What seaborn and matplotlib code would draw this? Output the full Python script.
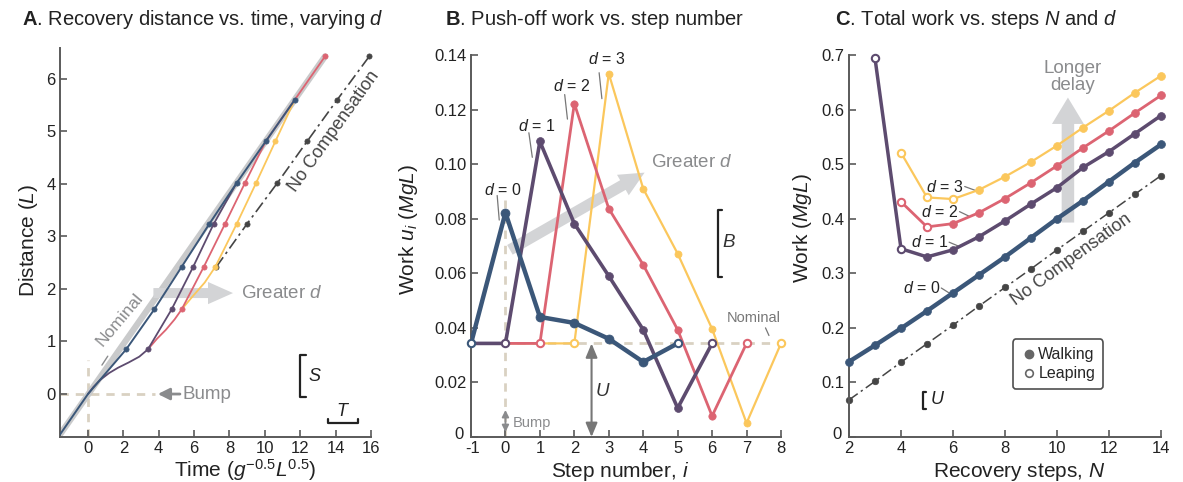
import numpy as np
import pandas as pd
import matplotlib
matplotlib.use("Agg")
import matplotlib.pyplot as plt
import matplotlib.transforms as mtransforms
import seaborn as sns
from matplotlib.lines import Line2D

# ---------------- Panel A data (time, distance) ----------------
nominalA_t = [-1.58, 13.4]
nominalA_x = [-0.77, 6.42]
blueA_t = [-1.58, 0, 2.16, 3.75, 5.3, 6.85, 8.4, 10.06, 11.7]
blueA_x = [-0.77, 0, 0.85, 1.61, 2.42, 3.23, 4.01, 4.81, 5.6]
purpleA_t = [0, 0.3, 0.7, 1.2, 1.7, 2.3, 2.9, 3.39, 4.73, 5.95, 7.1, 8.4]
purpleA_x = [0, 0.13, 0.27, 0.40, 0.50, 0.60, 0.71, 0.85, 1.61, 2.42, 3.23, 4.01]
redA_t = [3.39, 3.9, 4.4, 4.9, 5.3, 6.55, 7.74, 8.87, 10.06, 11.7, 13.4]
redA_x = [0.85, 1.05, 1.22, 1.42, 1.61, 2.42, 3.23, 4.01, 4.81, 5.6, 6.42]
yellowA_t = [5.3, 5.9, 6.6, 7.2, 8.4, 9.5, 10.6, 11.7]
yellowA_x = [1.61, 1.85, 2.12, 2.42, 3.23, 4.01, 4.81, 5.6]
nocompA_t = [7.26, 8.98, 10.7, 12.4, 14.1, 15.9]
nocompA_x = [2.42, 3.23, 4.01, 4.81, 5.6, 6.42]
blueA_mk = [2, 3, 4, 5, 6, 7, 8]
purpleA_mk = [7, 8, 9, 10]
redA_mk = [4, 5, 6, 7, 10]
yellowA_mk = [3, 4, 5, 6]

# ---------------- Panel B data (step i, work u_i) ----------------
blueB_i = [-1, 0, 1, 2, 3, 4, 5]
blueB_u = [0.0343, 0.0822, 0.0440, 0.0418, 0.0360, 0.0275, 0.0343]
purpleB_i = [-1, 0, 1, 2, 3, 4, 5, 6]
purpleB_u = [0.0343, 0.0343, 0.1083, 0.0782, 0.0590, 0.0393, 0.0106, 0.0343]
redB_i = [-1, 0, 1, 2, 3, 4, 5, 6, 7]
redB_u = [0.0343, 0.0343, 0.0343, 0.1222, 0.0837, 0.0631, 0.0393, 0.0077, 0.0343]
yellowB_i = [-1, 0, 1, 2, 3, 4, 5, 6, 7, 8]
yellowB_u = [0.0343, 0.0343, 0.0343, 0.0343, 0.1332, 0.0910, 0.0672, 0.0396, 0.0051, 0.0343]
nominal_u = 0.0343

# ---------------- Panel C data (steps N, total work) ----------------
N_all = [2, 3, 4, 5, 6, 7, 8, 9, 10, 11, 12, 13, 14]
nocompC = [0.068, 0.102, 0.137, 0.171, 0.205, 0.240, 0.274, 0.308, 0.343, 0.377, 0.411, 0.445, 0.479]
d0C = [0.138, 0.168, 0.199, 0.231, 0.264, 0.297, 0.330, 0.365, 0.400, 0.433, 0.468, 0.503, 0.536]
N_d1 = [3, 4, 5, 6, 7, 8, 9, 10, 11, 12, 13, 14]
d1C = [0.694, 0.345, 0.330, 0.343, 0.367, 0.396, 0.427, 0.457, 0.494, 0.523, 0.556, 0.589]
d1_leap = [3, 4]
N_d2 = [4, 5, 6, 7, 8, 9, 10, 11, 12, 13, 14]
d2C = [0.431, 0.385, 0.391, 0.411, 0.437, 0.466, 0.497, 0.530, 0.561, 0.594, 0.626]
d2_leap = [4, 5]
N_d3 = [4, 5, 6, 7, 8, 9, 10, 11, 12, 13, 14]
d3C = [0.521, 0.439, 0.436, 0.453, 0.477, 0.504, 0.534, 0.567, 0.598, 0.631, 0.662]
d3_leap = [4, 5, 6]

# ---------------- style ----------------
sns.set_theme(style="ticks")
plt.rcParams['font.family'] = ['Liberation Sans', 'DejaVu Sans']
plt.rcParams['mathtext.fontset'] = 'custom'
plt.rcParams['mathtext.rm'] = 'Liberation Sans'
plt.rcParams['mathtext.it'] = 'Liberation Sans:italic'
plt.rcParams['mathtext.bf'] = 'Liberation Sans:bold'

BLUE = "#3b5779"
PURPLE = "#5d4b6f"
RED = "#dc6472"
YELLOW = "#fbc75c"
NOMGRAY = "#c9cacb"
ARROWGRAY = "#d3d4d6"
TXTGRAY = "#8a8b8d"
DARK = "#454545"
BEIGE = "#d9d1c2"
SPINE = "#5a5a5a"

fig = plt.figure(figsize=(11.83, 4.82), dpi=100)
W, H = 1183, 482
axA = fig.add_axes([60 / W, 1 - 437 / H, 311 / W, 389 / H])
axB = fig.add_axes([471 / W, 1 - 437 / H, 310 / W, 382 / H])
axC = fig.add_axes([849 / W, 1 - 437 / H, 312 / W, 382 / H])


def sline(ax, x, y, color, lw, ls='-', z=2, alpha=1.0):
    sns.lineplot(x=x, y=y, ax=ax, color=color, linewidth=lw, linestyle=ls,
                 sort=False, estimator=None, zorder=z, legend=False, alpha=alpha)


def sdots(ax, x, y, color, s, z=3, open_=False, lw=1.5):
    if len(x) == 0:
        return
    if open_:
        sns.scatterplot(x=x, y=y, ax=ax, color="white", edgecolor=color, s=s,
                        linewidth=lw, zorder=z, legend=False, clip_on=False)
    else:
        sns.scatterplot(x=x, y=y, ax=ax, color=color, edgecolor=color, s=s,
                        linewidth=0.5, zorder=z, legend=False, clip_on=False)


def style_axes(ax):
    sns.despine(ax=ax)
    for sp in ['left', 'bottom']:
        ax.spines[sp].set_color(SPINE)
        ax.spines[sp].set_linewidth(1.4)
    ax.tick_params(direction='in', length=5, width=1.2, color=SPINE,
                   labelsize=12, labelcolor="#222222", pad=3)
    ax.set_xlabel("")
    ax.set_ylabel("")


def big_arrow(ax, tail, tip, tw=0.36, hw=0.8, hl=0.9):
    ax.annotate("", xy=tip, xytext=tail, zorder=1,
                arrowprops=dict(arrowstyle=f"simple,head_length={hl},head_width={hw},tail_width={tw}",
                                fc=ARROWGRAY, ec='none', mutation_scale=20,
                                shrinkA=0, shrinkB=0))


# ================= Panel A =================
ax = axA
ax.plot([0, 0], [-0.82, 0.65], ls=(0, (3, 2.5)), color=BEIGE, lw=2, zorder=0.5)
ax.plot([-1.6, 3.8], [0, 0], ls=(0, (3, 2.5)), color=BEIGE, lw=2, zorder=0.5)
sline(ax, nominalA_t, nominalA_x, NOMGRAY, 4.5, z=1)
sline(ax, nocompA_t, nocompA_x, DARK, 1.2, ls=(0, (7, 2.5, 1.5, 2.5)), z=2)
sdots(ax, nocompA_t, nocompA_x, DARK, 14, z=2.1)
sline(ax, yellowA_t, yellowA_x, YELLOW, 1.3, z=2.2)
sdots(ax, [yellowA_t[k] for k in yellowA_mk], [yellowA_x[k] for k in yellowA_mk], YELLOW, 14, z=2.3)
sline(ax, redA_t, redA_x, RED, 1.3, z=2.4)
sdots(ax, [redA_t[k] for k in redA_mk], [redA_x[k] for k in redA_mk], RED, 14, z=2.5)
sline(ax, purpleA_t, purpleA_x, PURPLE, 1.3, z=2.6)
sdots(ax, [purpleA_t[k] for k in purpleA_mk], [purpleA_x[k] for k in purpleA_mk], PURPLE, 14, z=2.7)
sline(ax, blueA_t, blueA_x, BLUE, 1.4, z=2.8)
sdots(ax, [blueA_t[k] for k in blueA_mk], [blueA_x[k] for k in blueA_mk], BLUE, 14, z=2.9)

ax.set_xlim(-1.58, 16)
ax.set_ylim(-0.817, 6.58)
ax.set_xticks([0, 2, 4, 6, 8, 10, 12, 14, 16])
ax.set_yticks([0, 1, 2, 3, 4, 5, 6])
style_axes(ax)

ax.text(1.8, 1.42, "Nominal", rotation=50, color=TXTGRAY, fontsize=12.5,
        ha='center', va='center', rotation_mode='anchor')
ax.plot([0.79, 1.12], [0.55, 0.72], color=TXTGRAY, lw=1)
ax.text(13.9, 5.0, "No Compensation", rotation=54.5, color=DARK, fontsize=13,
        ha='center', va='center', rotation_mode='anchor')
big_arrow(ax, (3.7, 1.92), (8.2, 1.92), tw=0.36, hw=0.8, hl=0.9)
ax.text(8.65, 1.92, r"Greater $d$", color=TXTGRAY, fontsize=13.5, ha='left', va='center')
ax.annotate("", xy=(3.95, 0), xytext=(5.2, 0),
            arrowprops=dict(arrowstyle="-|>,head_length=0.5,head_width=0.25", color=TXTGRAY,
                            lw=2, shrinkA=0, shrinkB=0, mutation_scale=14))
ax.text(5.35, 0, "Bump", color=TXTGRAY, fontsize=13.5, ha='left', va='center')
# S bracket
ax.plot([12.3, 12.0, 12.0, 12.3], [0.74, 0.74, -0.06, -0.06], color="#222222", lw=1.6)
ax.text(12.45, 0.34, "$S$", fontsize=13, ha='left', va='center', color="#222222")
# T bar
ax.plot([13.56, 13.56, 15.25, 15.25], [-0.47, -0.55, -0.55, -0.47], color="#222222", lw=1.6)
ax.text(14.4, -0.33, "$T$", fontsize=13, ha='center', va='center', color="#222222")

# ================= Panel B =================
ax = axB
ax.plot([-1, 8], [nominal_u, nominal_u], ls=(0, (3, 2.5)), color=BEIGE, lw=2, zorder=0.5, clip_on=False)
ax.plot([0, 0], [0, 0.087], ls=(0, (3, 2.5)), color=BEIGE, lw=2, zorder=0.5)
big_arrow(ax, (0.13, 0.0686), (4.04, 0.0969), tw=0.4, hw=0.85, hl=0.9)
ax.text(4.22, 0.1005, r"Greater $d$", color=TXTGRAY, fontsize=13.5, ha='left', va='center')

series_B = [
    (yellowB_i, yellowB_u, YELLOW, 1.6, 26, [2, 8]),
    (redB_i, redB_u, RED, 2.0, 28, [1, 7]),
    (purpleB_i, purpleB_u, PURPLE, 2.6, 32, [0, 6]),
    (blueB_i, blueB_u, BLUE, 3.2, 42, [-1, 5]),
]
z = 2
for xs, ys, c, lw, s, opens in series_B:
    sline(ax, xs, ys, c, lw, z=z)
    filled = [(a, b) for a, b in zip(xs, ys) if b != nominal_u]
    sdots(ax, [p[0] for p in filled], [p[1] for p in filled], c, s, z=z + 0.1)
    op = [(a, b) for a, b in zip(xs, ys) if a in opens]
    sdots(ax, [p[0] for p in op], [p[1] for p in op], c, 28, z=z + 0.2, open_=True)
    z += 1

ax.set_xlim(-1, 8)
ax.set_ylim(0, 0.14)
ax.set_xticks(list(range(-1, 9)))
ax.set_xticklabels([str(v) for v in range(-1, 9)])
ax.set_yticks([0, 0.02, 0.04, 0.06, 0.08, 0.10, 0.12, 0.14])
ax.set_yticklabels(["0", "0.02", "0.04", "0.06", "0.08", "0.10", "0.12", "0.14"])
style_axes(ax)
# nudge the y "0" label up-left a little so it does not touch "-1"
off = mtransforms.ScaledTranslation(-2 / 72, 3 / 72, fig.dpi_scale_trans)
ylab0 = ax.get_yticklabels()[0]
ylab0.set_transform(ylab0.get_transform() + off)
xlabm1 = ax.get_xticklabels()[0]
xlabm1.set_transform(xlabm1.get_transform() + mtransforms.ScaledTranslation(1.5 / 72, 0, fig.dpi_scale_trans))

# d labels
for tx, ty, lx, ly, lab in [(-0.08, 0.0906, [-0.24, -0.18], [0.0885, 0.0795], 0),
                            (0.9, 0.1138, [0.68, 0.78], [0.1115, 0.1025], 1),
                            (1.93, 0.1285, [1.72, 1.8], [0.1255, 0.1165], 2),
                            (2.94, 0.1385, [2.72, 2.8], [0.1335, 0.1240], 3)]:
    ax.text(tx, ty, rf"$d$ = {lab}", fontsize=11.5, ha='center', va='center', color="#222222")
    ax.plot(lx, ly, color="#777777", lw=0.9)
ax.text(7.2, 0.0435, "Nominal", fontsize=10.5, color="#777777", ha='center', va='center')
ax.plot([7.55, 7.65], [0.040, 0.0372], color="#777777", lw=0.9)
# bump arrow
ax.annotate("", xy=(0, 0.0018), xytext=(0, 0.0099),
            arrowprops=dict(arrowstyle="<|-|>,head_length=0.4,head_width=0.2", color=TXTGRAY,
                            lw=1.3, shrinkA=0, shrinkB=0, mutation_scale=10))
ax.text(0.22, 0.0052, "Bump", fontsize=10.5, color=TXTGRAY, ha='left', va='center')
# U arrow
ax.annotate("", xy=(2.5, 0.0), xytext=(2.5, nominal_u),
            arrowprops=dict(arrowstyle="<|-|>,head_length=0.6,head_width=0.25", color="#777777",
                            lw=1.5, shrinkA=0, shrinkB=0, mutation_scale=14))
ax.text(2.83, 0.0165, "$U$", fontsize=13.5, color="#333333", ha='center', va='center')
# B bracket
ax.plot([6.3, 6.16, 6.16, 6.3], [0.0833, 0.0833, 0.0587, 0.0587], color="#222222", lw=1.6)
ax.text(6.5, 0.0712, "$B$", fontsize=13.5, ha='center', va='center', color="#333333")

# ================= Panel C =================
ax = axC
ax.annotate("", xy=(10.42, 0.622), xytext=(10.42, 0.393), zorder=1,
            arrowprops=dict(arrowstyle="simple,head_length=0.95,head_width=1.15,tail_width=0.45",
                            fc=ARROWGRAY, ec='none', mutation_scale=20, shrinkA=0, shrinkB=0))
ax.text(10.62, 0.66, "Longer\ndelay", color=TXTGRAY, fontsize=13.5, ha='center', va='center',
        linespacing=0.95)

sline(ax, N_all, nocompC, DARK, 1.1, ls=(0, (7, 2.5, 1.5, 2.5)), z=2)
sdots(ax, N_all, nocompC, DARK, 22, z=2.1)

series_C = [
    (N_d3, d3C, YELLOW, 1.6, d3_leap),
    (N_d2, d2C, RED, 2.0, d2_leap),
    (N_d1, d1C, PURPLE, 2.5, d1_leap),
    (N_all, d0C, BLUE, 3.2, []),
]
z = 3
for xs, ys, c, lw, leaps in series_C:
    sline(ax, xs, ys, c, lw, z=z)
    fx = [a for a in xs if a not in leaps]
    fy = [b for a, b in zip(xs, ys) if a not in leaps]
    sdots(ax, fx, fy, c, 32, z=z + 0.1)
    ox = [a for a in xs if a in leaps]
    oy = [b for a, b in zip(xs, ys) if a in leaps]
    sdots(ax, ox, oy, c, 28, z=z + 0.2, open_=True)
    z += 1

ax.set_xlim(2, 14)
ax.set_ylim(0, 0.7)
ax.set_xticks([2, 4, 6, 8, 10, 12, 14])
ax.set_yticks([0, 0.1, 0.2, 0.3, 0.4, 0.5, 0.6, 0.7])
ax.set_yticklabels(["0", "0.1", "0.2", "0.3", "0.4", "0.5", "0.6", "0.7"])
style_axes(ax)
ylab0c = ax.get_yticklabels()[0]
ylab0c.set_transform(ylab0c.get_transform() + off)

for tx, ty, lx, ly, lab in [(6.4, 0.459, [6.45, 6.85], [0.459, 0.452], 3),
                            (6.2, 0.413, [6.25, 6.6], [0.413, 0.405], 2),
                            (5.8, 0.357, [5.85, 6.2], [0.357, 0.350], 1),
                            (5.5, 0.273, [5.55, 5.85], [0.273, 0.264], 0)]:
    ax.text(tx, ty, rf"$d$ = {lab}", fontsize=11.5, ha='right', va='center', color="#222222")
    ax.plot(lx, ly, color="#777777", lw=0.9)

ax.text(10.55, 0.325, "No Compensation", rotation=36, color=DARK, fontsize=13,
        ha='center', va='center', rotation_mode='anchor')
ax.plot([4.85 + 0.12, 4.85, 4.85, 4.85 + 0.12], [0.082, 0.082, 0.052, 0.052], color="#222222", lw=1.6)
ax.text(5.42, 0.068, "$U$", fontsize=13, ha='center', va='center', color="#222222")

handles = [Line2D([], [], marker='o', ls='none', color='#666666', markersize=6),
           Line2D([], [], marker='o', ls='none', markerfacecolor='white',
                  markeredgecolor='#666666', markersize=5.5, markeredgewidth=1.2)]
leg = ax.legend(handles, ["Walking", "Leaping"], loc='center', bbox_to_anchor=(0.67, 0.19),
                fontsize=11.5, frameon=True, fancybox=True, handletextpad=0.1,
                handlelength=1.0, borderpad=0.5, labelspacing=0.25)
leg.get_frame().set_edgecolor("#222222")
leg.get_frame().set_linewidth(1.2)

# ================= Titles & axis labels =================
fig.text(22 / W, 1 - 25 / H, r"$\mathbf{A}$. Recovery distance vs. time, varying $d$",
         fontsize=14.5, ha='left', va='baseline', color="#222222")
fig.text(445 / W, 1 - 25 / H, r"$\mathbf{B}$. Push-off work vs. step number",
         fontsize=14.5, ha='left', va='baseline', color="#222222")
fig.text(835 / W, 1 - 25 / H, r"$\mathbf{C}$. Total work vs. steps $N$ and $d$",
         fontsize=14.5, ha='left', va='baseline', color="#222222")

fig.text(245 / W, 1 - 477 / H, r"Time ($g^{-0.5}L^{0.5}$)", fontsize=15, ha='center', va='baseline', color="#222222")
fig.text(620 / W, 1 - 477 / H, r"Step number, $i$", fontsize=15, ha='center', va='baseline', color="#222222")
fig.text(1019 / W, 1 - 477 / H, r"Recovery steps, $N$", fontsize=15, ha='center', va='baseline', color="#222222")
fig.text(28 / W, 1 - 240 / H, r"Distance ($L$)", fontsize=15, rotation=90, ha='center', va='center', color="#222222")
fig.text(408 / W, 1 - 230 / H, r"Work $u_i$ ($MgL$)", fontsize=15, rotation=90, ha='center', va='center', color="#222222")
fig.text(802 / W, 1 - 228 / H, r"Work ($MgL$)", fontsize=15, rotation=90, ha='center', va='center', color="#222222")

fig.savefig("out.png", dpi=100)
